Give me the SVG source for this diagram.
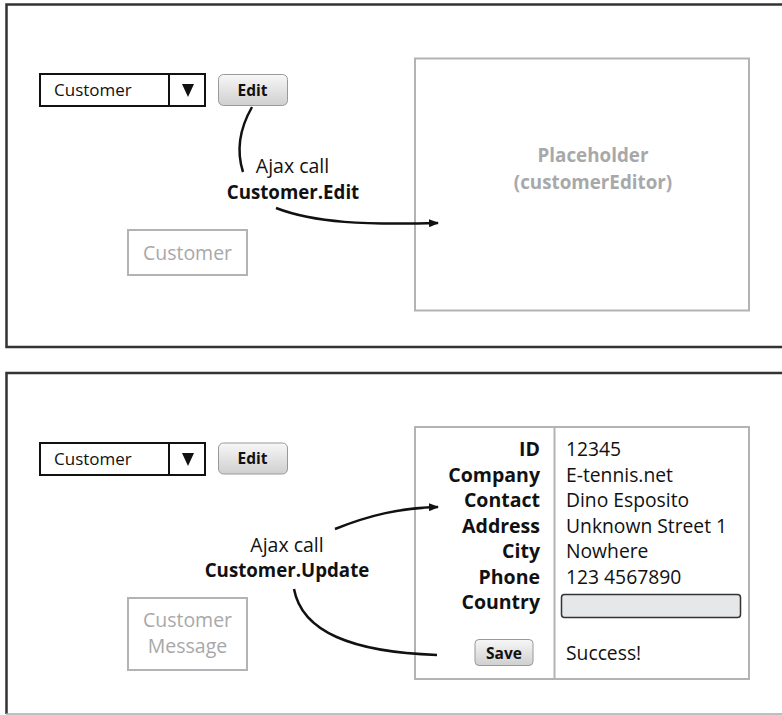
<svg xmlns="http://www.w3.org/2000/svg" width="782" height="715" viewBox="0 0 782 715">
<defs>
<linearGradient id="btn" x1="0" y1="0" x2="0" y2="1">
<stop offset="0" stop-color="#f7f7f7"/>
<stop offset="1" stop-color="#cfcfcf"/>
</linearGradient>
<marker id="arr" markerWidth="10" markerHeight="8" refX="9" refY="4" orient="auto" markerUnits="userSpaceOnUse">
<path d="M0,0 L10,4 L0,8 Z" fill="#111"/>
</marker>
</defs>
<style>
text{font-family:"Open Sans","Noto Sans","Liberation Sans",sans-serif;fill:#111}
.frame{fill:none;stroke:#333;stroke-width:2.5}
.dd{fill:#fff;stroke:#111;stroke-width:2}
.btn{fill:url(#btn);stroke:#999;stroke-width:1}
.gbox{fill:none;stroke:#b3b3b5;stroke-width:2}
.gt{fill:#a8a8aa;font-size:19.5px}
.ph{fill:#a8a8aa;font-size:18.8px;font-weight:bold}
.b{font-weight:bold}
.dt{font-size:17px}
.bt{font-size:15.5px;font-weight:bold}
.aj{font-size:19.5px}
.cl{font-size:18.7px;font-weight:bold}
.lbl{font-size:19.5px;font-weight:bold;text-anchor:end}
.val{font-size:19.3px}
.conn{fill:none;stroke:#111;stroke-width:2.5}
</style>
<g id="frames">
<path class="frame" d="M782,4.5 H6.5 V347 H782"/>
<path class="frame" d="M782,373 H6.5 V714"/>
<line x1="6" y1="714" x2="782" y2="714" stroke="#aaa" stroke-width="1.5"/>
</g>
<g id="dropdown1">
<rect class="dd" x="40" y="74" width="165" height="32"/>
<line x1="169" y1="74" x2="169" y2="106" stroke="#111" stroke-width="2"/>
<path d="M182,84 L194,84 L188,97 Z" fill="#111"/>
<text class="dt" x="54" y="96">Customer</text>
</g>
<g id="edit1">
<rect class="btn" x="218.5" y="74.5" width="69" height="31" rx="5"/>
<text class="bt" x="252.5" y="95.5" text-anchor="middle">Edit</text>
</g>
<g id="customer1">
<rect class="gbox" x="128" y="230" width="119" height="45"/>
<text class="gt" x="187.5" y="259.5" text-anchor="middle">Customer</text>
</g>
<g id="placeholder">
<rect class="gbox" x="415" y="58.5" width="334" height="252"/>
<text class="ph" x="593" y="162" text-anchor="middle">Placeholder</text>
<text class="ph" x="593" y="189" text-anchor="middle">(customerEditor)</text>
</g>
<g id="label1">
<text class="aj" x="292.5" y="173" text-anchor="middle">Ajax call</text>
<text class="cl" x="293" y="199" text-anchor="middle">Customer.Edit</text>
</g>
<g id="dropdown2">
<rect class="dd" x="40" y="443" width="165" height="32"/>
<line x1="169" y1="443" x2="169" y2="475" stroke="#111" stroke-width="2"/>
<path d="M182,453 L194,453 L188,466 Z" fill="#111"/>
<text class="dt" x="54" y="465">Customer</text>
</g>
<g id="edit2">
<rect class="btn" x="218.5" y="443" width="69" height="31" rx="5"/>
<text class="bt" x="252.5" y="464" text-anchor="middle">Edit</text>
</g>
<g id="message">
<rect class="gbox" x="128" y="598" width="119" height="72"/>
<text class="gt" x="187.5" y="627" text-anchor="middle">Customer</text>
<text class="gt" x="187.5" y="653" text-anchor="middle">Message</text>
</g>
<g id="label2">
<text class="aj" x="287" y="552" text-anchor="middle">Ajax call</text>
<text class="cl" x="287" y="577" text-anchor="middle">Customer.Update</text>
</g>
<g id="form">
<rect class="gbox" x="415" y="427" width="334" height="252"/>
<line x1="554.5" y1="427" x2="554.5" y2="679" stroke="#b3b3b5" stroke-width="2"/>
<text class="lbl" x="540" y="456">ID</text>
<text class="lbl" x="540" y="481.5">Company</text>
<text class="lbl" x="540" y="507">Contact</text>
<text class="lbl" x="540" y="532.5">Address</text>
<text class="lbl" x="540" y="558">City</text>
<text class="lbl" x="540" y="583.5">Phone</text>
<text class="lbl" x="540" y="609">Country</text>
<text class="val" x="566" y="456">12345</text>
<text class="val" x="566" y="481.5">E-tennis.net</text>
<text class="val" x="566" y="507">Dino Esposito</text>
<text class="val" x="566" y="532.5">Unknown Street 1</text>
<text class="val" x="566" y="558">Nowhere</text>
<text class="val" x="566" y="583.5">123 4567890</text>
<rect x="561.5" y="594.5" width="179" height="23" rx="3" fill="#e6e7e8" stroke="#333" stroke-width="1.5"/>
<rect class="btn" x="475" y="639.5" width="58" height="26" rx="4"/>
<text class="bt" x="504" y="658.5" text-anchor="middle">Save</text>
<text class="val" x="566" y="660">Success!</text>
</g>
<g id="connectors">
<path class="conn" d="M252,107 C240,128 236,150 243,172"/>
<path class="conn" d="M276,208 C315,223 365,225 438,223" marker-end="url(#arr)"/>
<path class="conn" d="M335,529 C370,515 400,508 438,507" marker-end="url(#arr)"/>
<path class="conn" d="M294,589 C302,632 352,652 437,655"/>
</g>
</svg>
